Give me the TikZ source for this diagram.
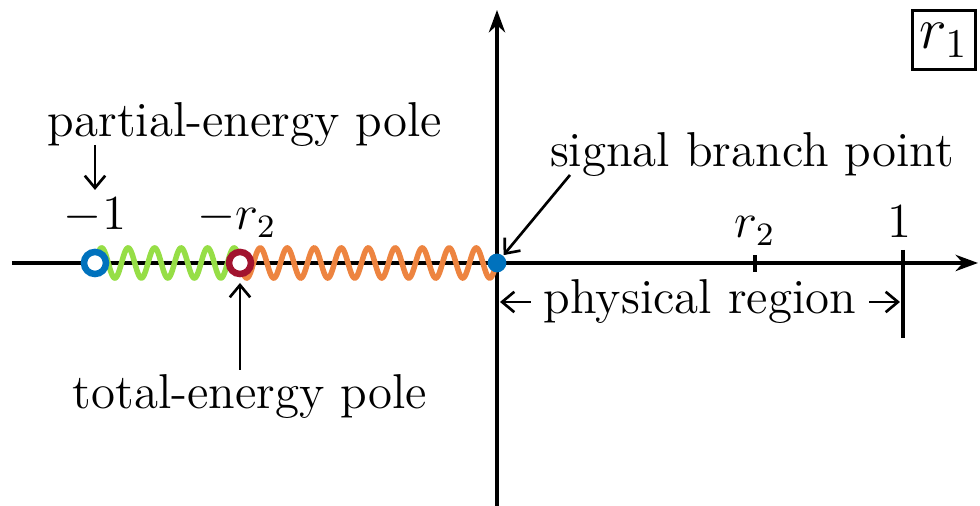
\documentclass[tikz,border=0pt]{standalone}
\usepackage{tikz}
\usetikzlibrary{arrows.meta, positioning}

\definecolor{poleblue}{RGB}{0,114,189}
\definecolor{polered}{RGB}{162,20,47}
\definecolor{cutgreen}{RGB}{150,222,70}
\definecolor{cutorange}{RGB}{237,132,64}

\begin{document}
\begin{tikzpicture}[
    x=0.245pt, y=0.245pt,
    axis/.style={line width=0.8pt, -{Stealth[length=5.5pt, width=4pt]}},
    pointer/.style={line width=0.65pt, -{Straight Barb[length=3pt, width=5pt]}},
    lbl/.style={font=\large, inner sep=0pt},
    pole/.style={circle, line width=1.6pt, fill=white,
                 minimum size=5.4pt, inner sep=0pt},
    cut/.style={line width=1.35pt, samples=300, smooth},
    font=\large
  ]
  \useasboundingbox (-497,-243) rectangle (483,263);

  % axes
  \draw[axis] (-485,0) -- (481,0);
  \draw[axis] (0,-243) -- (0,253);

  % ticks
  \draw[line width=0.8pt] (258,-9) -- (258,8);
  \draw[line width=0.8pt] (406,13) -- (406,-75);
  \node[lbl, anchor=base] (lr2) at (258,25) {$r_2$};
  \node[lbl, anchor=base] (lone) at (402,25) {$1$};

  % branch cuts
  \draw[cut, cutgreen, domain=-402:-257] plot (\x, {15*sin(((\x+402)/26.5)*360)});
  \draw[cut, cutorange, domain=-257:0] plot (\x, {-15*sin(((\x+257)/27)*360)});

  % poles and branch point
  \node[pole, draw=poleblue] (pm1) at (-402,0) {};
  \node[pole, draw=polered] (pmr2) at (-257,0) {};
  \node[circle, fill=poleblue, minimum size=4.6pt, inner sep=0pt] (bp) at (0,0) {};
  \node[lbl, anchor=base] (lm1) at (-402,33) {$-1$};
  \node[lbl, anchor=base] (lmr2) at (-260,33) {$-r_2$};

  % labels
  \node[lbl] (partial) at (-252,138) {partial-energy pole};
  \node[lbl] (total) at (-247,-134) {total-energy pole};
  \node[lbl] (signal) at (255,108) {signal branch point};
  \coordinate (ptop) at (-402,118);
  \coordinate (pbot) at (-402,73);
  \coordinate (ttop) at (-257,-20);
  \coordinate (tbot) at (-257,-107);
  \coordinate (stail) at (73,88);
  \draw[pointer] (ptop) -- (pbot);
  \draw[pointer] (tbot) -- (ttop);
  \draw[pointer] (stail) -- (bp);

  % physical region
  \node[lbl] (phys) at (203,-39) {physical region};
  \coordinate (physl) at (3,-39);
  \coordinate (physr) at (403,-39);
  \draw[pointer] ([xshift=-3pt]phys.west) -- (physl);
  \draw[pointer] ([xshift=3pt]phys.east) -- (physr);

  % sheet label
  \node[draw, line width=0.8pt, inner sep=0pt, minimum width=15.5pt,
        minimum height=14.5pt, font=\Large] (sheet) at (447,223) {$r_1$};

\end{tikzpicture}
\end{document}
